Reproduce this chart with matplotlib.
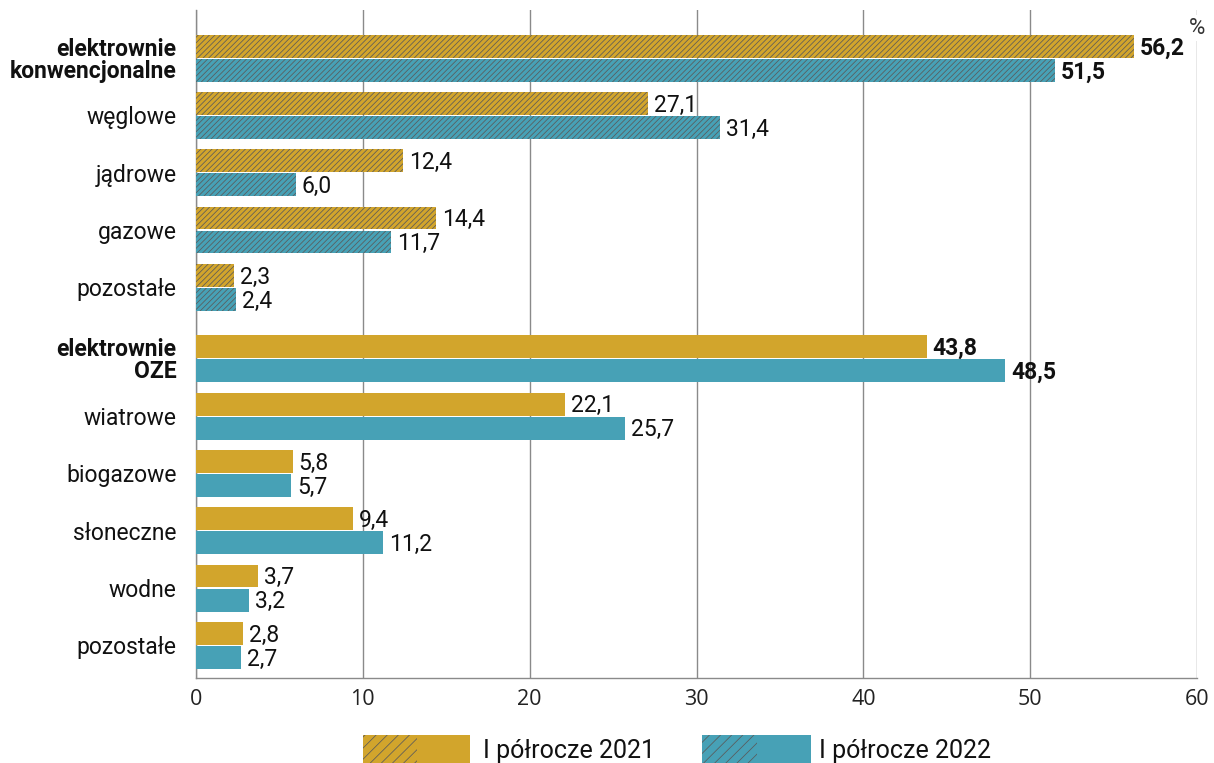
import matplotlib
matplotlib.use("Agg")
import matplotlib.pyplot as plt
from matplotlib.patches import Rectangle

# Data: share of electricity generation by source, %
categories = ["elektrownie\nkonwencjonalne", "węglowe", "jądrowe", "gazowe", "pozostałe",
              "elektrownie\nOZE", "wiatrowe", "biogazowe", "słoneczne", "wodne", "pozostałe"]
values_2021 = [56.2, 27.1, 12.4, 14.4, 2.3, 43.8, 22.1, 5.8, 9.4, 3.7, 2.8]
values_2022 = [51.5, 31.4, 6.0, 11.7, 2.4, 48.5, 25.7, 5.7, 11.2, 3.2, 2.7]
hatched = [True] * 5 + [False] * 6
bold_rows = [0, 5]
series_labels = ["I półrocze 2021", "I półrocze 2022"]
x_ticks = [0, 10, 20, 30, 40, 50, 60]

COL_21 = "#D2A52C"
COL_22 = "#47A1B6"
GRID = "#8a8a8a"
TXT = "#111111"

plt.rcParams["font.family"] = ["Roboto", "DejaVu Sans"]
plt.rcParams["hatch.color"] = "#5a5a5a"
plt.rcParams["hatch.linewidth"] = 0.55

fig = plt.figure(figsize=(12.14, 7.63), dpi=100)
ax = fig.add_axes([196 / 1214, 1 - 678 / 763, (1197 - 196) / 1214, (678 - 10) / 763])

# Row positions, with an extra gap between the two blocks
ypos = [i if i < 5 else i + 0.25 for i in range(len(categories))]
h = 0.4
off = 0.21

for i, y in enumerate(ypos):
    htch = "//////" if hatched[i] else None
    for v, col, dy in ((values_2021[i], COL_21, -off), (values_2022[i], COL_22, off)):
        ax.barh(y + dy, v, height=h, color=col, hatch=htch, linewidth=0, zorder=3)
        ax.text(v + 0.35, y + dy + 0.03, f"{v:.1f}".replace(".", ","), va="center", ha="left",
                fontsize=16.5, color=TXT, fontweight="bold" if i in bold_rows else "normal",
                zorder=4)

ax.set_xlim(0, 60)
ax.set_ylim(10.82, -0.84)
ax.set_xticks(x_ticks)
ax.set_xticklabels([str(t) for t in x_ticks], fontsize=15.5, color="#222222",
                   fontfamily=["Open Sans", "DejaVu Sans"])
ax.set_yticks(ypos)
ax.set_yticklabels(categories, fontsize=16.5, color=TXT)
for i, lab in enumerate(ax.get_yticklabels()):
    lab.set_linespacing(0.95)
    if i in bold_rows:
        lab.set_fontweight("bold")
ax.tick_params(axis="both", length=0)
ax.tick_params(axis="y", pad=14)
ax.tick_params(axis="x", pad=8)

ax.grid(axis="x", color=GRID, linewidth=1.0, zorder=0)
for s in ("top", "right"):
    ax.spines[s].set_visible(False)
for s in ("left", "bottom"):
    ax.spines[s].set_color(GRID)
    ax.spines[s].set_linewidth(1.0)
    ax.spines[s].set_zorder(2)

ax.text(1.0, 0.973, "%", transform=ax.transAxes, ha="center", va="center", fontsize=16,
        color="#333333", bbox=dict(facecolor="white", edgecolor="none", pad=2), zorder=5)

# Legend drawn in figure coordinates, left half of each key hatched
W, H = 1214, 763
for (x0, x1, tx), col, lab in (((363, 470, 483), COL_21, series_labels[0]),
                               ((702, 811, 819), COL_22, series_labels[1])):
    fig.patches.append(Rectangle((x0 / W, -0.01), (x1 - x0) / W, (763 - 735) / H + 0.01,
                                 transform=fig.transFigure, facecolor=col, linewidth=0))
    fig.patches.append(Rectangle((x0 / W, -0.01), (x1 - x0) / 2 / W, (763 - 735) / H + 0.01,
                                 transform=fig.transFigure, facecolor="none", hatch="///",
                                 linewidth=0))
    fig.text(tx / W, 5 / H, lab, ha="left", va="baseline", fontsize=18, color=TXT)

fig.savefig("out.png", dpi=100)
